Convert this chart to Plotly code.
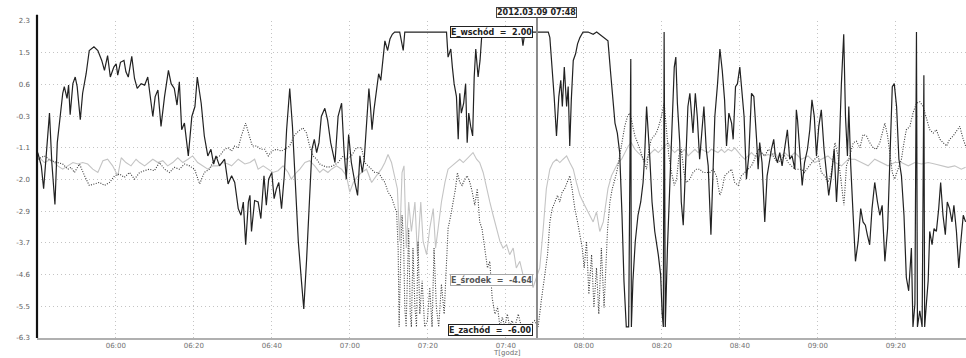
import pandas as pd
import plotly.graph_objects as go

BASE = "2012-03-09 05:40:00"
CURSOR = "2012-03-09 07:48:00"
CURSOR_LABEL = "2012.03.09 07:48"
X_TICKS = ["06:00", "06:20", "06:40", "07:00", "07:20", "07:40", "08:00", "08:20", "08:40", "09:00", "09:20"]
Y_TICKVALS = [2.3, 1.44, 0.58, -0.28, -1.14, -2.0, -2.86, -3.72, -4.58, -5.44, -6.3]
Y_TICKTEXT = ["2.3", "1.5", "0.6", "-0.3", "-1.1", "-2.0", "-2.9", "-3.7", "-4.6", "-5.5", "-6.3"]
X_TITLE = "T[godz]"

# (minutes after 05:40, value)
WSCHOD = [
    (0, -1.27), (0.9, -1.63), (1.5, -2.25), (2.1, -1.36), (3.0, -0.20), (3.6, -1.54), (4.4, -2.68), (5.0, -1.00),
    (5.6, -0.47), (6.4, 0.34), (6.8, 0.52), (7.5, 0.20), (7.9, 0.56), (8.3, -0.24), (9.0, 0.60), (9.6, 0.78),
    (10.1, 0.52), (10.9, -0.38), (11.5, 0.34), (12.4, 0.87), (13.2, 1.50), (14.4, 1.60), (15.4, 1.50), (16.4, 1.23),
    (17.1, 0.96), (17.9, 1.36), (18.6, 0.78), (19.5, 1.05), (20.1, 1.14), (20.5, 0.83), (21.2, 1.18), (22.1, 1.23),
    (22.6, 0.92), (23.2, 0.78), (24.1, 1.34), (24.8, 0.74), (25.5, 0.47), (26.5, 0.60), (27.4, 0.56), (28.2, 0.78),
    (29.5, -0.29), (30.1, 0.25), (30.8, 0.43), (31.6, -0.56), (32.5, 0.25), (33.5, 0.96), (34.2, 0.60), (35.0, 0.47),
    (35.7, 0.02), (36.3, 0.65), (36.9, -0.65), (37.6, -0.47), (38.6, -1.36), (39.5, -0.29), (40.3, -0.02), (40.9, 0.78),
    (41.9, 0.07), (42.7, -0.82), (43.6, -1.36), (44.4, -1.18), (45.1, -1.58), (45.7, -1.36), (46.6, -1.63), (47.9, -1.45),
    (48.8, -2.12), (49.7, -1.90), (50.5, -2.08), (51.4, -2.79), (52.1, -2.97), (52.7, -2.61), (53.3, -3.77), (54.0, -2.61),
    (54.4, -2.43), (54.8, -3.41), (55.6, -2.57), (56.5, -2.61), (57.2, -3.06), (58.0, -1.90), (58.6, -2.70), (59.2, -1.99),
    (60.0, -1.81), (60.6, -2.52), (61.2, -2.25), (61.8, -2.08), (62.5, -2.79), (63.2, -1.90), (63.8, -0.65), (64.6, 0.47),
    (65.3, -0.56), (65.9, -1.90), (66.8, -3.68), (67.6, -4.75), (68.2, -5.51), (68.9, -4.22), (69.7, -2.43), (70.3, -1.18),
    (70.9, -0.91), (71.5, -1.27), (72.1, -1.00), (72.7, -0.29), (73.6, -0.07), (74.3, -0.38), (75.1, -1.00), (76.2, -1.54),
    (77.0, -0.29), (77.9, 0.07), (78.5, -1.18), (79.1, -1.99), (79.7, -0.78), (80.4, -1.54), (81.3, -2.08), (82.0, -2.43),
    (82.6, -1.36), (83.2, -1.81), (83.7, -1.45), (84.3, -0.38), (84.9, 0.47), (85.3, -0.02), (85.7, -0.65), (86.2, -0.11),
    (86.8, 0.43), (87.4, 0.87), (87.95, 0.69), (88.55, 1.23), (89.0, 1.76), (89.7, 1.50), (90.3, 1.81), (90.9, 1.94),
    (91.5, 2.0), (92.8, 2.0), (93.7, 1.50), (94.1, 2.0),
    (104.8, 2.0), (105.2, 1.32), (105.9, 1.54), (106.3, 1.05), (106.75, 0.60), (107.35, 0.25), (107.8, -0.91), (108.2, 0.34),
    (108.6, -0.20), (109.2, 0.07), (109.7, 0.60), (110.1, -1.00), (110.5, -0.20), (111.0, -0.56), (111.5, -0.82), (111.9, 0.78),
    (112.3, 1.54), (112.9, 0.78), (113.4, 1.23), (113.8, 1.85), (114.2, 2.0), (124.0, 2.0), (124.4, 1.63), (124.9, 2.0),
    (130.9, 2.0), (131.3, 1.85), (131.9, 1.05), (132.4, 0.25), (133.0, -0.82), (133.6, 0.25), (134.1, 0.69), (134.5, -0.02),
    (135.0, 1.05), (135.6, -0.02), (136.0, 0.52), (136.4, -1.09), (136.8, 0.16), (137.3, 1.23), (137.9, 1.41), (138.4, 1.68),
    (139.0, 1.85), (139.8, 2.0), (141.1, 2.0), (142.4, 1.94), (143.3, 2.0),
    (146.2, 1.76), (146.9, 0.87), (147.5, 0.07), (148.0, -0.47), (148.6, -0.74), (149.2, -1.27), (149.8, -2.97), (150.3, -4.75),
    (150.9, -6.0), (151.5, -6.0), (152.05, 1.27), (152.2, -6.0), (152.6, -4.75), (153.2, -3.68), (153.9, -2.97), (154.6, -2.61),
    (155.2, -2.08), (155.6, -1.36), (156.1, -0.02), (156.5, -0.65), (156.9, -1.36), (157.5, -2.61), (158.2, -3.41), (159.1, -4.04),
    (159.7, -4.58), (160.1, -5.65), (160.4, -6.0), (160.6, 2.0), (160.9, -6.0), (161.45, -3.86), (162.05, -2.08), (162.5, -0.56),
    (163.2, 1.05), (163.6, 1.32), (164.0, 0.07), (164.6, -1.00), (165.0, -2.61), (165.5, -3.24), (166.1, -1.36), (166.7, -0.02),
    (167.2, 0.34), (167.6, -0.11), (168.0, -0.74), (168.6, 0.34), (169.1, -0.29), (169.7, -1.45), (170.3, -0.74), (170.8, -0.02),
    (171.4, -1.18), (171.9, -1.63), (172.6, -3.50), (173.2, -1.63), (173.6, -0.29), (174.3, 0.60), (174.9, 1.54), (175.5, 0.96),
    (176.1, 0.16), (176.6, -1.09), (177.2, -0.20), (177.9, -0.47), (178.3, -0.91), (178.9, 0.52), (179.4, 0.60), (180.0, 1.05),
    (180.4, 0.60), (181.1, -0.29), (181.7, -1.99), (182.3, -1.36), (183.0, 0.34), (183.6, 0.25), (184.3, -0.91), (184.7, -1.72),
    (185.1, -1.00), (185.7, -1.54), (186.4, -3.15), (187.0, -1.90), (187.7, -1.45), (188.1, -1.18), (188.7, -0.91), (189.1, -1.36),
    (189.65, -1.54), (190.25, -1.27), (190.85, -1.63), (191.5, -1.18), (192.2, -0.65), (192.8, -1.45), (193.4, -1.36), (194.1, -1.72),
    (194.5, -0.11), (194.8, -0.38), (195.4, -1.36),
    (196.0, -2.16), (196.6, -1.54), (197.35, -1.18), (197.95, -0.65), (198.5, 0.16), (199.1, -0.29), (199.66, -1.36), (200.25, -0.56),
    (200.9, -0.11), (201.6, -1.18), (202.2, -1.81), (202.8, -2.43), (203.5, -1.90), (204.2, -1.18), (204.8, -2.61), (205.4, -1.45),
    (206.05, 0.60), (206.65, 1.94), (207.1, -0.29), (207.6, -1.36), (207.95, -0.02), (208.45, -1.63), (209.06, -2.97), (209.66, -4.22),
    (210.35, -3.68), (211.0, -2.79), (211.6, -3.15), (212.2, -3.24), (212.7, -3.50), (213.3, -3.77), (213.9, -2.79), (214.6, -2.08),
    (215.3, -2.61), (215.9, -2.97), (216.5, -2.70), (217.2, -4.22), (217.9, -3.33), (218.5, -1.36), (219.1, 0.52), (219.6, 0.60),
    (220.2, -0.02), (220.8, -1.45), (221.45, -1.90), (222.1, -2.97), (222.7, -4.66), (223.3, -5.02), (224.0, -3.86), (224.4, -6.0),
    (224.9, -5.38), (225.3, 2.0), (225.55, -6.0), (226.15, -5.56), (226.75, -6.0), (227.2, 0.83), (227.4, -6.0), (227.9, -5.29),
    (228.3, -4.75), (228.7, -3.41), (229.3, -3.77), (229.8, -3.33), (230.4, -3.41), (231.0, -2.79), (231.5, -2.08), (232.1, -2.97),
    (232.7, -3.50), (233.2, -2.61), (233.8, -2.79), (234.4, -3.15), (234.9, -2.70), (235.55, -3.41), (236.15, -4.40), (236.6, -3.77),
    (237.3, -2.97), (237.9, -3.15),
]

ZACHOD = [
    (0, -1.45), (1.7, -1.36), (3.4, -1.49), (5.1, -1.54), (6.4, -1.58), (7.7, -1.72), (8.5, -1.67), (9.4, -1.81),
    (10.7, -1.58), (12.0, -1.90), (13.2, -2.16), (14.5, -2.12), (15.8, -2.08), (17.1, -2.16), (18.4, -2.08), (19.7, -1.90),
    (20.9, -1.85), (22.2, -1.94), (23.5, -1.81), (24.8, -1.99), (26.1, -1.81), (27.4, -1.76), (28.6, -1.72), (29.9, -1.76),
    (31.2, -1.54), (32.5, -1.72), (33.8, -1.81), (35.0, -1.67), (36.3, -1.72), (37.6, -1.58), (38.9, -1.63), (40.2, -1.72),
    (41.5, -2.12), (42.7, -1.81), (44.0, -1.72), (45.3, -1.45), (46.6, -1.36), (47.9, -1.18),
    (48.8, -1.14), (49.7, -1.23), (50.5, -1.09), (51.4, -1.14), (52.2, -0.82), (53.3, -0.47), (54.1, -0.74), (55.0, -1.09),
    (56.1, -1.09), (57.2, -1.18), (58.2, -1.18), (59.1, -1.36), (60.0, -1.23), (61.2, -1.18), (62.5, -1.23), (63.3, -1.18),
    (64.6, -1.09), (65.7, -0.82), (66.8, -0.69), (68.0, -0.60), (68.9, -0.74), (69.7, -1.09), (70.6, -1.36), (71.5, -1.45),
    (72.3, -1.58), (73.2, -1.63), (74.4, -1.67), (75.7, -1.63), (77.0, -1.54), (78.3, -1.36), (79.1, -1.45), (80.4, -1.36),
    (81.7, -1.14), (83.0, -1.14), (83.85, -1.54), (84.7, -1.63), (85.6, -1.72), (86.4, -1.81), (87.3, -1.81), (88.1, -1.94),
    (89.0, -2.08), (89.8, -2.34), (90.7, -2.48), (91.5, -2.74), (92.0, -2.88), (92.4, -3.86), (92.65, -6.0), (93.1, -3.86),
    (93.4, -2.97), (93.8, -3.68), (94.1, -5.47), (94.45, -6.0), (94.8, -4.31), (95.1, -3.33), (95.5, -5.65), (95.8, -6.0),
    (96.2, -3.86), (96.7, -5.47), (97.1, -6.0), (97.5, -3.68),
    (97.95, -5.65), (98.55, -4.75), (99.2, -6.0), (99.9, -5.83), (100.5, -4.93), (101.1, -6.0), (101.6, -3.86), (102.2, -5.47),
    (102.8, -6.0), (103.5, -4.84), (104.2, -5.65), (104.8, -4.40), (105.2, -3.33), (105.9, -2.97), (106.5, -2.61), (107.1, -2.25),
    (107.6, -1.81), (108.2, -2.08), (108.8, -2.16), (109.5, -1.99), (110.1, -1.90), (110.8, -2.08), (111.4, -2.34), (112.05, -2.70),
    (112.7, -2.25), (113.3, -3.15), (113.9, -3.33), (114.6, -3.86), (115.3, -4.40), (115.9, -4.22), (116.5, -5.20), (117.2, -5.65),
    (117.9, -5.47), (118.5, -6.0), (119.1, -5.74), (119.75, -6.0), (120.4, -5.65), (121.0, -6.0), (121.6, -5.83), (122.3, -6.0),
    (123.2, -5.65), (124.0, -6.0), (125.7, -6.0), (127.4, -5.83), (128.3, -6.0), (129.1, -5.29), (130.0, -4.58), (130.7, -4.04),
    (131.3, -3.15), (131.9, -2.79), (132.6, -2.61), (133.25, -2.43), (133.85, -2.61), (134.45, -2.34), (135.1, -2.25), (135.8, -2.08),
    (136.4, -1.90), (137.0, -2.25), (137.7, -2.79), (138.4, -3.15), (139.0, -3.50), (139.6, -3.86), (140.1, -4.40), (140.7, -3.68),
    (141.3, -5.11), (142.0, -4.04), (142.6, -5.47), (143.25, -4.40), (143.85, -5.65), (144.5, -3.86), (145.2, -5.47),
    (146.1, -3.33), (146.7, -2.61), (147.3, -2.25), (148.0, -1.99), (148.6, -1.72), (149.2, -1.36), (149.8, -1.00), (150.5, -0.56),
    (151.2, -0.29), (151.8, -0.20), (152.4, -0.47), (153.1, -0.82), (153.8, -1.00), (154.4, -1.18), (155.0, -1.36), (155.5, -1.54),
    (156.1, -1.72), (156.7, -1.18), (157.3, -0.91), (158.0, -0.82), (158.6, -0.74), (159.2, -0.56), (159.9, -0.29), (160.6, 0.07),
    (161.2, -0.65), (161.8, -1.36), (162.5, -1.81), (163.2, -2.16), (163.8, -1.99), (164.4, -1.36), (165.0, -1.18), (165.7, -1.81),
    (166.3, -2.08), (167.2, -1.99), (168.0, -1.81), (168.9, -1.72), (169.7, -1.72), (170.6, -1.81), (171.4, -1.81), (172.3, -1.81),
    (173.2, -1.72), (174.0, -1.90), (174.9, -2.43), (175.5, -2.25), (176.1, -1.90), (177.0, -1.81), (177.9, -1.72), (178.7, -2.08),
    (179.6, -2.16), (180.4, -1.90), (181.3, -1.81), (182.1, -1.72), (183.0, -1.63), (183.8, -1.45), (184.7, -1.18), (185.55, -1.27),
    (186.4, -1.36), (187.3, -1.18), (188.1, -1.27), (189.0, -1.45), (189.8, -1.54), (190.7, -1.45), (191.5, -1.36), (192.4, -1.54),
    (193.2, -1.63), (194.1, -1.72),
    (195.8, -1.72), (196.6, -1.81), (197.5, -1.67), (198.4, -1.54), (199.2, -1.45), (200.1, -1.36), (200.9, -1.81), (201.8, -1.90),
    (202.6, -2.08), (203.5, -1.81), (204.4, -1.00), (205.2, -1.36), (206.1, -2.25), (206.7, -2.70), (207.35, -1.63), (208.2, -1.36),
    (209.1, -1.00), (209.9, -0.96), (210.8, -1.14), (211.6, -0.78), (212.5, -0.82), (213.3, -1.00), (214.2, -1.14), (215.0, -1.18),
    (215.9, -1.00), (216.5, -0.74), (217.2, -0.47), (217.9, -0.82), (218.5, -1.27), (219.1, -1.81), (219.7, -1.99), (220.6, -1.72),
    (221.45, -1.45), (222.1, -1.00), (222.7, -0.65), (223.6, -0.56), (224.4, -0.20), (225.3, 0.07), (226.15, 0.11), (227.0, -0.02),
    (227.9, -0.38), (228.7, -0.65), (229.6, -0.74), (230.4, -0.65), (231.3, -0.91), (232.1, -1.00), (233.0, -1.09), (233.8, -0.91),
    (234.7, -0.82), (235.55, -0.69), (236.4, -0.56), (237.3, -0.91), (237.9, -1.09),
]

SRODEK = [
    (0, -1.36), (1.7, -1.54), (3.4, -1.45), (5.1, -1.63), (6.4, -1.72), (7.7, -1.63), (9.0, -1.54), (10.3, -1.58),
    (11.5, -1.54), (12.8, -1.58), (14.1, -1.72), (15.4, -1.81), (16.7, -1.49), (17.9, -1.45), (19.2, -1.63), (20.5, -1.90),
    (21.4, -1.41), (22.6, -1.54), (23.9, -1.63), (25.2, -1.45), (26.1, -1.54), (27.4, -1.63), (28.6, -1.54), (29.5, -1.45),
    (30.8, -1.54), (32.05, -1.49), (33.3, -1.63), (34.6, -1.54), (35.9, -1.41), (37.2, -1.54), (38.5, -1.45), (39.7, -1.36),
    (41.0, -1.54), (42.3, -1.63), (43.6, -1.72), (44.9, -1.63), (46.2, -1.63), (47.4, -1.54),
    (48.8, -1.58), (49.7, -1.63), (51.4, -1.45), (53.1, -1.58), (54.4, -1.54), (55.6, -1.45), (56.5, -1.72), (57.8, -1.63),
    (59.1, -1.72), (60.3, -1.81), (61.6, -1.76), (62.9, -1.63), (64.2, -1.81), (65.0, -1.99), (66.3, -1.81), (67.2, -1.72),
    (68.5, -1.54), (69.7, -1.49), (71.0, -1.63), (72.3, -1.81), (73.2, -1.72), (74.4, -1.81), (75.3, -1.72), (76.6, -1.63),
    (77.9, -1.72), (79.15, -1.90), (80.0, -2.34), (80.9, -2.08), (82.1, -1.90), (83.0, -1.81), (84.3, -1.72), (85.6, -2.08),
    (86.8, -1.90), (88.1, -1.72), (89.0, -1.54), (89.8, -1.32), (90.7, -1.54), (91.5, -1.90), (92.2, -2.25), (92.8, -3.68),
    (93.4, -1.81), (93.9, -1.63), (94.5, -3.86), (95.1, -2.61), (95.8, -3.41), (96.7, -2.61), (97.35, -4.04),
    (98.2, -2.61), (98.8, -3.68), (99.7, -4.04), (100.5, -3.33), (101.4, -2.79), (102.0, -3.86), (102.65, -3.33), (103.5, -2.61),
    (104.4, -2.08), (105.2, -1.72), (106.2, -1.63), (107.35, -1.54), (108.2, -1.45), (109.1, -1.54), (109.9, -1.45), (110.8, -1.36),
    (111.6, -1.27), (112.5, -1.45), (113.3, -1.54), (114.2, -1.81), (115.05, -2.25), (115.9, -2.61), (116.75, -2.97), (117.6, -3.33),
    (118.5, -3.68), (119.3, -3.86), (120.2, -3.77), (121.0, -4.04), (121.9, -3.86), (122.7, -4.40), (123.6, -4.22), (124.4, -4.58),
    (125.3, -4.75), (126.2, -4.66), (127.0, -4.93), (127.9, -4.64), (128.7, -4.40), (129.6, -3.33), (130.4, -2.25), (131.3, -1.72),
    (132.1, -1.54), (133.0, -1.45), (133.85, -1.54), (134.7, -1.45), (135.6, -1.36), (136.4, -1.54), (137.3, -1.72), (138.1, -2.08),
    (139.0, -2.43), (139.8, -2.61), (140.7, -2.79), (141.5, -2.97), (142.4, -3.15), (143.25, -2.88), (144.1, -3.41), (145.0, -3.15),
    (146.2, -2.25), (147.1, -1.90), (148.0, -1.72), (148.8, -1.54), (149.7, -1.45), (150.5, -1.27), (151.4, -1.09), (152.2, -1.00),
    (153.1, -1.18), (153.9, -1.27), (154.8, -1.36), (155.6, -1.54), (156.5, -1.36), (157.3, -1.27), (158.2, -1.18), (159.1, -1.27),
    (159.9, -1.18), (160.8, -1.09), (161.6, -1.00), (162.5, -1.18), (163.3, -1.27), (164.2, -1.18), (165.0, -1.27), (165.9, -1.18),
    (166.75, -1.36), (167.6, -1.27), (168.5, -1.18), (169.3, -1.27), (170.2, -1.18), (171.0, -1.23), (171.9, -1.27), (172.7, -1.18),
    (173.6, -1.23), (174.4, -1.27), (175.3, -1.18), (176.1, -1.27), (177.0, -1.18), (177.9, -1.23), (178.7, -1.14), (179.6, -1.27),
    (180.4, -1.36), (181.3, -1.45), (182.1, -1.36), (183.0, -1.27), (183.8, -1.36), (184.7, -1.41), (185.55, -1.27), (186.4, -1.36),
    (187.3, -1.32), (188.1, -1.36), (189.0, -1.27), (189.8, -1.41), (190.7, -1.36), (191.5, -1.27), (192.4, -1.36), (193.2, -1.36),
    (194.1, -1.27),
    (195.8, -1.45), (197.5, -1.36), (199.2, -1.54), (200.9, -1.45), (202.6, -1.36), (204.4, -1.54), (206.1, -1.63), (207.8, -1.45),
    (209.5, -1.45), (211.2, -1.54), (212.9, -1.63), (214.6, -1.45), (216.3, -1.54), (218.0, -1.63), (219.7, -1.54), (221.45, -1.54),
    (223.2, -1.63), (224.9, -1.54), (226.6, -1.58), (228.3, -1.54), (230.0, -1.58), (231.7, -1.63), (233.4, -1.67), (235.1, -1.63),
    (236.8, -1.72), (237.9, -1.67),
]

LABELS = [("E_wschód", 2.00), ("E_środek", -4.64), ("E_zachód", -6.00)]


def to_xy(pairs):
    base = pd.Timestamp(BASE)
    xs = [base + pd.Timedelta(minutes=t) for t, _ in pairs]
    ys = [v for _, v in pairs]
    return xs, ys


fig = go.Figure()
series = [
    ("E_środek", SRODEK, dict(color="#c4c4c4", width=1.1, dash="solid")),
    ("E_zachód", ZACHOD, dict(color="#3a3a3a", width=1.1, dash="1px,1.5px")),
    ("E_wschód", WSCHOD, dict(color="#222222", width=1.2, dash="solid")),
]
for name, data, line in series:
    xs, ys = to_xy(data)
    fig.add_trace(go.Scatter(x=xs, y=ys, mode="lines", name=name, line=line, showlegend=False))

day = "2012-03-09 "
fig.update_xaxes(
    range=[day + "05:39:48", day + "09:38:00"],
    tickvals=[day + t for t in X_TICKS], ticktext=X_TICKS,
    showgrid=True, gridcolor="#c4c4c4", griddash="1px,3px", gridwidth=1,
    showline=True, linecolor="#b0b0b0", linewidth=2,
    ticks="", tickfont=dict(family="DejaVu Sans", size=7, color="#707070"),
    zeroline=False,
)
fig.update_yaxes(
    range=[-6.3, 2.3],
    tickvals=Y_TICKVALS, ticktext=Y_TICKTEXT,
    showgrid=True, gridcolor="#c4c4c4", griddash="1px,3px", gridwidth=1,
    showline=False, ticks="", ticklabelstandoff=6,
    tickfont=dict(family="DejaVu Sans", size=7, color="#606060"),
    zeroline=False,
)

shapes = [
    dict(type="line", xref="paper", yref="paper", x0=0, x1=0, y0=0, y1=1.02,
         line=dict(color="#111111", width=2.2)),
    dict(type="line", xref="x", yref="paper", x0=CURSOR, x1=CURSOR, y0=0, y1=1.02,
         line=dict(color="#8a8a8a", width=2)),
]
fig.update_layout(shapes=shapes)

ann = [
    dict(xref="x", yref="paper", x=CURSOR, y=1.028, text="<b>" + CURSOR_LABEL + "</b>", showarrow=False,
         xanchor="center", yanchor="middle", font=dict(family="DejaVu Sans", size=8, color="#222222"),
         bgcolor="white", bordercolor="#444444", borderwidth=1, borderpad=0),
    dict(xref="paper", yref="paper", x=0.506, y=-0.047, text=X_TITLE, showarrow=False,
         xanchor="center", yanchor="middle", font=dict(family="DejaVu Sans", size=7, color="#707070")),
]
label_styles = [("#222222", "#222222", 0), ("#a8a8a8", "#555555", -3), ("#222222", "#222222", -3)]
for (nm, val), (bc, fc, ys) in zip(LABELS, label_styles):
    ann.append(dict(xref="x", yref="y", x=CURSOR, y=val, xshift=-4, yshift=ys,
                    text="<b>" + nm + "  =  " + f"{val:.2f}" + "</b>", showarrow=False,
                    xanchor="right", yanchor="middle",
                    font=dict(family="DejaVu Sans", size=8, color=fc),
                    bgcolor="white", bordercolor=bc, borderwidth=1, borderpad=0))
fig.update_layout(annotations=ann)

fig.update_layout(
    width=966, height=358,
    margin=dict(l=37, r=0, t=21, b=20),
    paper_bgcolor="white", plot_bgcolor="white",
    showlegend=False,
)
fig.write_html("out.html")
